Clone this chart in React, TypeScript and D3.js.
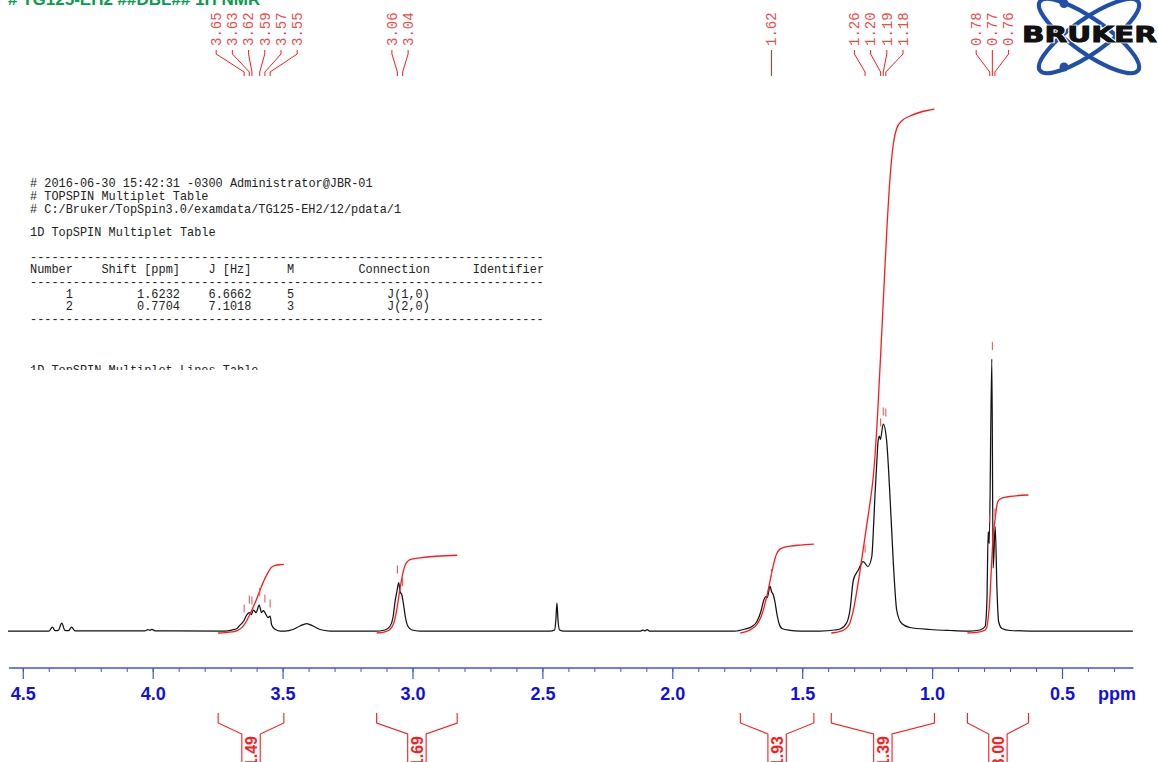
import React from 'react';
import * as d3 from 'd3';

const W = 1158;
const H = 762;

// ---- spectrum trace: [ppm, relative intensity]
const spectrum: [number, number][] = [
  [4.559, 0.5], [4.401, 0.5], [4.388, 4.5], [4.378, 0.8], [4.365, 1.2], [4.352, 8.5], [4.34, 1.2],
  [4.326, 0.8], [4.314, 4.5], [4.301, 0.6], [4.032, 0.6], [4.02, 1.8], [4.012, 1.2], [4.005, 2.2],
  [3.993, 0.6], [3.724, 0.4], [3.697, 1.5], [3.677, 3], [3.669, 5.5], [3.653, 10], [3.64, 16.5],
  [3.63, 19], [3.622, 17], [3.615, 21.5], [3.604, 19], [3.592, 26.5], [3.583, 19], [3.576, 21],
  [3.567, 17.5], [3.558, 14], [3.55, 15.5], [3.544, 6.5], [3.531, 2.2], [3.512, 0.5], [3.493, 0.5],
  [3.462, 2], [3.435, 5.5], [3.409, 8], [3.385, 5.5], [3.358, 2], [3.32, 0.5], [3.146, 0.3],
  [3.108, 1.5], [3.089, 5], [3.077, 14], [3.069, 30], [3.062, 40], [3.055, 49], [3.05, 40],
  [3.043, 36.5], [3.037, 28], [3.029, 14], [3.019, 5], [3.004, 1.5], [2.973, 0.5], [2.473, 0.3],
  [2.455, 1.5], [2.45, 12], [2.446, 28.5], [2.442, 12], [2.436, 1.5], [2.419, 0.3], [2.126, 0.3],
  [2.115, 1.5], [2.107, 0.6], [2.099, 1.8], [2.088, 0.3], [1.761, 0.4], [1.722, 2.5], [1.695, 5],
  [1.676, 10], [1.661, 20], [1.649, 32], [1.642, 35], [1.636, 34], [1.626, 45.5], [1.62, 40],
  [1.613, 36.5], [1.607, 30], [1.599, 17], [1.591, 8], [1.58, 3], [1.549, 1.2], [1.51, 0.5],
  [1.433, 0.5], [1.376, 1.5], [1.356, 2.5], [1.331, 8.5], [1.318, 21.5], [1.305, 51.5],
  [1.286, 61.5], [1.267, 70], [1.249, 65], [1.234, 75], [1.228, 101], [1.222, 135], [1.215, 168],
  [1.21, 190], [1.205, 195.5], [1.201, 192], [1.19, 207.5], [1.177, 191], [1.164, 135],
  [1.151, 68], [1.138, 21], [1.119, 8], [1.087, 4], [1.01, 2], [0.933, 1], [0.875, 0.5],
  [0.856, 0.5], [0.818, 1.5], [0.798, 5], [0.791, 30], [0.786, 99.8], [0.782, 88], [0.772, 272.5],
  [0.767, 63.5], [0.759, 105], [0.752, 40], [0.746, 10], [0.733, 3], [0.702, 1], [0.625, 0.5],
  [0.229, 0.3],
];

// ---- peak picking groups (labels at top)
const peakGroupPpm: number[][] = [
  [3.65, 3.63, 3.62, 3.59, 3.57, 3.55],
  [3.06, 3.04],
  [1.62],
  [1.26, 1.2, 1.19, 1.18],
  [0.78, 0.77, 0.76],
];
const peakGroupIntensity: number[][] = [
  [10, 19, 18, 26.5, 20, 15],
  [49, 36.5],
  [45.5],
  [70, 196, 207, 206],
  [99.8, 272.5, 106],
];

// ---- integrals
const integralFrom = [3.75, 3.14, 1.74, 1.39, 0.866];
const integralTo = [3.497, 2.83, 1.457, 0.993, 0.631];
const integralValue = [1.49, 1.69, 1.93, 11.39, 3.0];

// ---- axis
const majorTicks = [4.5, 4.0, 3.5, 3.0, 2.5, 2.0, 1.5, 1.0, 0.5];
const minorTicks = d3.range(45, 2, -1).map((v) => v / 10);
const axisStart = 4.555;
const axisEnd = 0.227;

// ---- text block
const headerLines = [
  '# 2016-06-30 15:42:31 -0300 Administrator@JBR-01',
  '# TOPSPIN Multiplet Table',
  '# C:/Bruker/TopSpin3.0/examdata/TG125-EH2/12/pdata/1',
];
const tableTitle = '1D TopSPIN Multiplet Table';
const tableHeader =
  'Number    Shift [ppm]    J [Hz]     M         Connection      Identifier';
const tableRows = [
  '     1         1.6232    6.6662     5             J(1,0)',
  '     2         0.7704    7.1018     3             J(2,0)',
];
const linesTitle = '1D TopSPIN Multiplet Lines Table';
const titleText = '# TG125-EH2 ##DBL## 1H NMR';

const xScale = d3.scaleLinear().domain([4.5, 0.5]).range([23.3, 1062.5]);
const yScale = d3.scaleLinear().domain([0, 300]).range([631.5, 331.5]);

const RED = '#ff1a1a';
const LABEL_RED = '#f04a4a';
const BLUE_TXT = '#1010e6';
const BLUE_LINE = '#3a55e8';
const MONO = "'Liberation Mono', 'Courier New', monospace";
const SANS = "'Liberation Sans', Arial, sans-serif";
const CHAR_W = 7.14;

function interpSpectrum(p: number): number {
  for (let i = 1; i < spectrum.length; i++) {
    const [p0, v0] = spectrum[i - 1];
    const [p1, v1] = spectrum[i];
    if (p <= p0 && p >= p1) {
      const t = (p0 - p) / (p0 - p1);
      return v0 + t * (v1 - v0);
    }
  }
  return 0;
}

function integralPoints(from: number, to: number, value: number): [number, number][] {
  const pts: [number, number][] = [[from, interpSpectrum(from)]];
  spectrum.forEach((d) => {
    if (d[0] < from && d[0] > to) pts.push(d);
  });
  pts.push([to, interpSpectrum(to)]);
  const cum = [0];
  for (let i = 1; i < pts.length; i++) {
    cum.push(cum[i - 1] + ((pts[i - 1][1] + pts[i][1]) / 2) * (pts[i - 1][0] - pts[i][0]));
  }
  const total = cum[cum.length - 1];
  const base = -1.5;
  const pxPerUnit = 46;
  return pts.map((p, i) => [p[0], base + (cum[i] / total) * value * pxPerUnit]);
}

const lineGen = d3
  .line<[number, number]>()
  .x((d) => xScale(d[0]))
  .y((d) => yScale(d[1]))
  .curve(d3.curveMonotoneX);

// monospace line: place each run of non-space characters at its column
function MonoLine({ s, x, y }: { s: string; x: number; y: number }) {
  const runs: { col: number; t: string }[] = [];
  const re = /\S+/g;
  let m: RegExpExecArray | null;
  while ((m = re.exec(s)) !== null) runs.push({ col: m.index, t: m[0] });
  return (
    <text y={y}>
      {runs.map((r, i) => (
        <tspan key={i} x={x + r.col * CHAR_W}>{r.t}</tspan>
      ))}
    </text>
  );
}

function BrukerLogo() {
  const cx = 1089;
  const cy = 36;
  return (
    <g>
      <ellipse cx={cx} cy={cy} rx={60} ry={17} fill="none" stroke="#1f4fa8" strokeWidth={4.2}
        transform={`rotate(35 ${cx} ${cy})`} />
      <ellipse cx={cx} cy={cy} rx={60} ry={17} fill="none" stroke="#1f4fa8" strokeWidth={4.2}
        transform={`rotate(-35 ${cx} ${cy})`} />
      <circle cx={1064} cy={3.5} r={4.5} fill="#1f4fa8" />
      <circle cx={1064} cy={67} r={4.5} fill="#1f4fa8" />
      <text x={1022} y={42} fontFamily="'DejaVu Sans', sans-serif" fontWeight={900} fontSize={21}
        textLength={135} lengthAdjust="spacingAndGlyphs" fill="#111" stroke="#fff" strokeWidth={2.5}
        style={{ paintOrder: 'stroke' }}>
        BRUKER
      </text>
      <text x={1022} y={42} fontFamily="'DejaVu Sans', sans-serif" fontWeight={900} fontSize={21}
        textLength={135} lengthAdjust="spacingAndGlyphs" fill="#111" stroke="#111" strokeWidth={0.8}>
        BRUKER
      </text>
    </g>
  );
}

export default function App() {
  const dash = '-'.repeat(72);
  return (
    <svg width={W} height={H} style={{ position: 'fixed', left: 0, top: 0, background: '#fff' }}>
      <defs>
        <clipPath id="textclip">
          <rect x={0} y={0} width={600} height={370} />
        </clipPath>
      </defs>
      <rect width={W} height={H} fill="#fff" />

      {/* title (cut at top) */}
      <text x={8} y={4.5} fontFamily={SANS} fontWeight="bold" fontSize={17} fill="#0a9a50">
        {titleText}
      </text>

      {/* text block */}
      <g fontFamily={MONO} fontSize={11.9} fill="#222" clipPath="url(#textclip)">
        {headerLines.map((t, i) => (
          <MonoLine key={i} s={t} x={30} y={187 + i * 13} />
        ))}
        <MonoLine s={tableTitle} x={30} y={236} />
        <text x={30} y={261}>{dash}</text>
        <MonoLine s={tableHeader} x={30} y={273} />
        <text x={30} y={286}>{dash}</text>
        {tableRows.map((t, i) => (
          <MonoLine key={i} s={t} x={30} y={298 + i * 12} />
        ))}
        <text x={30} y={323}>{dash}</text>
        <MonoLine s={linesTitle} x={30} y={374} />
      </g>

      {/* spectrum */}
      <path d={lineGen(spectrum) || ''} fill="none" stroke="#111" strokeWidth={1.25} strokeLinejoin="round" />

      {/* integral curves */}
      {integralValue.map((v, i) => (
        <path key={i} d={lineGen(integralPoints(integralFrom[i], integralTo[i], v)) || ''}
          fill="none" stroke={RED} strokeWidth={1.3} />
      ))}

      {/* peak markers */}
      {peakGroupPpm.map((g, gi) =>
        g.map((p, pi) => {
          const x = xScale(p);
          const y = yScale(peakGroupIntensity[gi][pi]);
          return <line key={`${gi}-${pi}`} x1={x} x2={x} y1={y - 17} y2={y - 9} stroke={LABEL_RED} strokeWidth={1} />;
        })
      )}

      {/* peak labels */}
      {peakGroupPpm.map((g, gi) => {
        const xs = g.map((p) => xScale(p));
        const center = d3.mean(xs) as number;
        const n = g.length;
        return (
          <g key={gi}>
            {g.map((p, pi) => {
              const lx = center + (pi - (n - 1) / 2) * 16.2;
              const px = xs[pi];
              return (
                <g key={pi}>
                  <path d={`M${lx},50 L${lx},54 L${px},72 L${px},76`} fill="none" stroke={RED} strokeWidth={1} />
                  <text transform={`translate(${lx},46) rotate(-90)`} dy="0.35em" fontFamily={MONO}
                    fontSize={14} fill={LABEL_RED}>
                    {p.toFixed(2)}
                  </text>
                </g>
              );
            })}
          </g>
        );
      })}

      {/* axis */}
      <line x1={xScale(axisStart)} x2={xScale(axisEnd)} y1={668} y2={668} stroke={BLUE_LINE} strokeWidth={1.3} />
      {minorTicks.map((t) => (
        <line key={`m${t}`} x1={xScale(t)} x2={xScale(t)} y1={668} y2={672} stroke={BLUE_LINE} strokeWidth={1} />
      ))}
      {majorTicks.map((t) => (
        <g key={`M${t}`}>
          <line x1={xScale(t)} x2={xScale(t)} y1={668} y2={679} stroke={BLUE_LINE} strokeWidth={1.2} />
          <text x={xScale(t)} y={700} textAnchor="middle" fontFamily={SANS} fontWeight="bold" fontSize={18} fill={BLUE_TXT}>
            {t.toFixed(1)}
          </text>
        </g>
      ))}
      <text x={1117} y={700} textAnchor="middle" fontFamily={SANS} fontWeight="bold" fontSize={18} fill={BLUE_TXT}>
        ppm
      </text>

      {/* integral brackets */}
      {integralValue.map((v, i) => {
        const x1 = xScale(integralFrom[i]);
        const x2 = xScale(integralTo[i]);
        const xc = (x1 + x2) / 2;
        return (
          <g key={i}>
            <path d={`M${x1},713 L${x1},723 L${xc - 9.2},734 L${xc - 9.2},770 M${xc + 9.2},770 L${xc + 9.2},734 L${x2},723 L${x2},713`}
              fill="none" stroke={RED} strokeWidth={1.1} />
            <text transform={`translate(${xc + 6},736) rotate(-90)`} textAnchor="end" fontFamily={SANS}
              fontWeight="bold" fontSize={16} fill={RED}>
              {v.toFixed(2)}
            </text>
          </g>
        );
      })}

      <BrukerLogo />
    </svg>
  );
}
